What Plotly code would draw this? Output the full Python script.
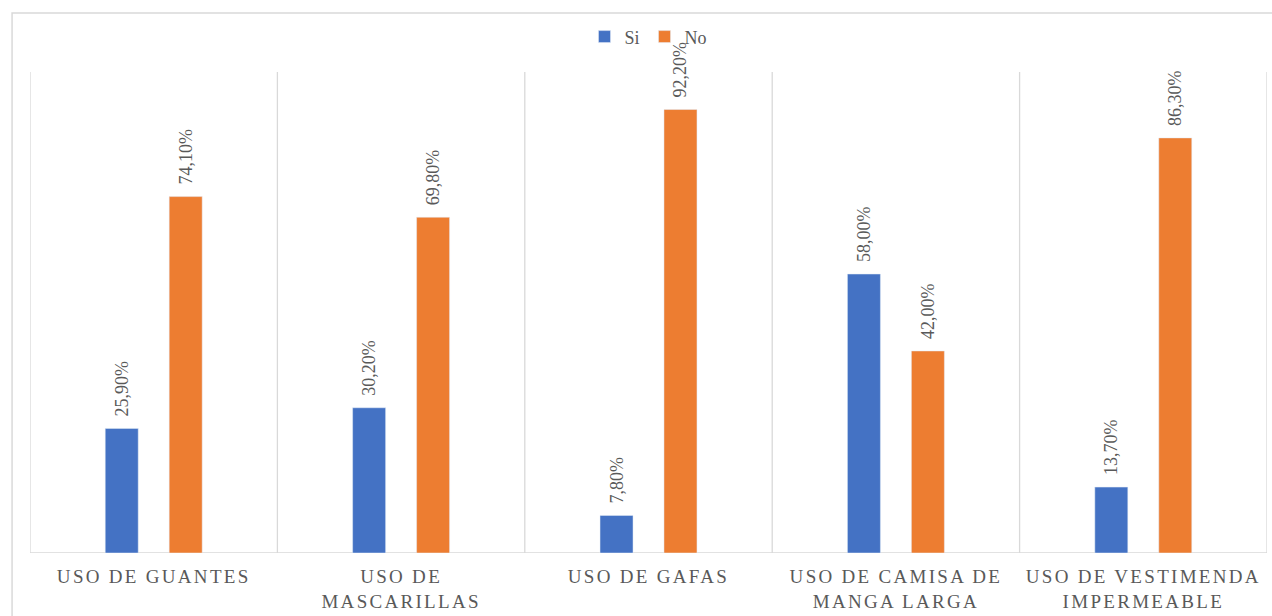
import plotly.graph_objects as go

# Uso de equipo de protección: porcentaje que sí / no lo usa
categorias = [
    "USO DE GUANTES",
    "USO DE<br>MASCARILLAS",
    "USO DE GAFAS",
    "USO DE CAMISA DE<br>MANGA LARGA",
    "USO DE VESTIMENDA<br>IMPERMEABLE",
]
si = [25.9, 30.2, 7.8, 58.0, 13.7]
no = [74.1, 69.8, 92.2, 42.0, 86.3]

AZUL = "#4472C4"
NARANJA = "#ED7D31"
GRIS_TEXTO = "#595959"
GRIS_LINEA = "#D9D9D9"
FUENTE = "Liberation Serif, Times New Roman, serif"


def etiqueta(v):
    # espacios duros al inicio para separar la etiqueta del extremo de la barra
    return "\u00a0\u00a0" + f"{v:.2f}%".replace(".", ",")


x = list(range(len(categorias)))

fig = go.Figure()
for nombre, valores, color in (("Si", si, AZUL), ("No", no, NARANJA)):
    fig.add_trace(go.Bar(
        name=nombre, x=x, y=valores, marker_color=color,
        text=[etiqueta(v) for v in valores], textposition="outside", textangle=-90,
        constraintext="none",
        textfont=dict(family=FUENTE, size=18, color=GRIS_TEXTO), cliponaxis=False,
    ))

# Separadores verticales entre categorías y línea base
formas = []
for i in range(len(categorias) + 1):
    formas.append(dict(type="line", xref="x", yref="paper", x0=i - 0.5, x1=i - 0.5,
                       y0=0, y1=1, line=dict(color=GRIS_LINEA, width=1.3), layer="below"))
formas.append(dict(type="line", xref="paper", yref="y", x0=0, x1=1, y0=0, y1=0,
                   line=dict(color=GRIS_LINEA, width=1.3), layer="below"))
# Marco exterior del gráfico
formas.append(dict(type="rect", xref="paper", yref="paper", x0=-0.0145, x1=1.02,
                   y0=-0.2, y1=1.1227, line=dict(color=GRIS_LINEA, width=1.5)))

fig.update_layout(
    width=1272, height=616,
    margin=dict(l=30, r=5, t=72, b=63),
    paper_bgcolor="white", plot_bgcolor="white",
    barmode="group", bargap=0.483, bargroupgap=0.484,
    shapes=formas,
    showlegend=True,
    legend=dict(orientation="h", x=0.5, xanchor="center", y=1.073, yanchor="middle",
                font=dict(family=FUENTE, size=18, color=GRIS_TEXTO),
                itemwidth=30, tracegroupgap=0, bgcolor="rgba(0,0,0,0)"),
    font=dict(family=FUENTE, color=GRIS_TEXTO),
)
fig.update_xaxes(
    tickmode="array", tickvals=x, ticktext=categorias,
    range=[-0.5, len(categorias) - 0.5], showgrid=False, showline=False, ticks="",
    ticklabelstandoff=10,
    tickfont=dict(family=FUENTE, size=19, color=GRIS_TEXTO),
)
fig.update_yaxes(range=[0, 100], visible=False, showgrid=False)

# Espaciado entre letras en las etiquetas de categoría
espaciado = """
var gd = document.getElementById('{plot_id}');
function espaciar() {
  gd.querySelectorAll('.xtick text').forEach(function (t) {
    t.style.letterSpacing = '2.3px';
  });
}
espaciar();
gd.on('plotly_afterplot', espaciar);
"""

fig.write_html("out.html", post_script=espaciado)
